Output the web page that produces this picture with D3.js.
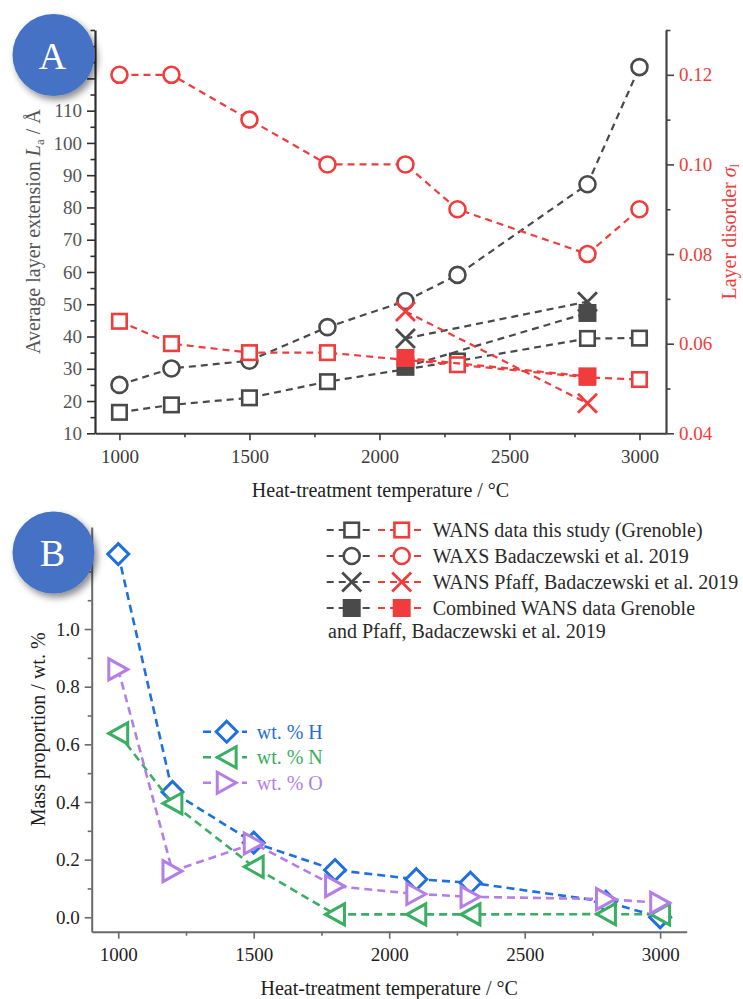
<!DOCTYPE html>
<html><head><meta charset="utf-8">
<script src="https://cdn.jsdelivr.net/npm/d3@7"></script>
<style>
body{margin:0;background:#fff}
svg{display:block}
text{font-family:"Liberation Serif","Times New Roman",serif}
</style>
</head><body>
<svg id="chart" width="743" height="999"></svg>
<script>
// ---------- Panel A: layer extension La (left axis) ----------
const laGrenobleT = [1000, 1200, 1500, 1800, 2300, 2800, 3000];
const laGrenoble  = [16.5, 18.8, 21.0, 26.0, 32.4, 39.4, 39.5];
const laWaxsT = [1000, 1200, 1500, 1800, 2100, 2300, 2800, 3000];
const laWaxs  = [25.0, 30.1, 32.5, 42.9, 51.0, 59.1, 87.2, 123.5];
const laPfaffT = [2100, 2800];
const laPfaff  = [39.4, 50.8];
const laCombT = [2100, 2800];
const laComb  = [30.6, 47.3];

// ---------- Panel A: layer disorder sigma_l (right axis) ----------
const sigGrenobleT = [1000, 1200, 1500, 1800, 2300, 2800, 3000];
const sigGrenoble  = [0.065, 0.060, 0.058, 0.058, 0.0553, 0.0525, 0.052];
const sigWaxsT = [1000, 1200, 1500, 1800, 2100, 2300, 2800, 3000];
const sigWaxs  = [0.12, 0.12, 0.11, 0.10, 0.10, 0.09, 0.08, 0.09];
const sigPfaffT = [2100, 2800];
const sigPfaff  = [0.0672, 0.0467];
const sigCombT = [2100, 2800];
const sigComb  = [0.0568, 0.0527];

// ---------- Panel B: elemental mass proportion ----------
const tempsB = [1000, 1200, 1500, 1800, 2100, 2300, 2800, 3000];
const wtH = [1.26, 0.435, 0.259, 0.164, 0.132, 0.12, 0.054, 0.0];
const wtN = [0.638, 0.395, 0.175, 0.01, 0.01, 0.01, 0.011, 0.01];
const wtO = [0.86, 0.16, 0.256, 0.108, 0.081, 0.071, 0.063, 0.05];

// ---------- ticks (labels under the panel badges are left blank) ----------
const xTicks = [1000, 1500, 2000, 2500, 3000];
const xMinor = [1250, 1750, 2250, 2750];
const laTicks = [10, 20, 30, 40, 50, 60, 70, 80, 90, 100, 110, 120, 130];
const laLabelled = [10, 20, 30, 40, 50, 60, 70, 80, 90, 100, 110];
const laMinor = [15, 25, 35, 45, 55, 65, 75, 85, 95, 105, 115, 125, 135];
const sigTicks = [0.04, 0.06, 0.08, 0.10, 0.12];
const sigMinor = [0.05, 0.07, 0.09, 0.11, 0.13];
const wtTicks = [0.0, 0.2, 0.4, 0.6, 0.8, 1.0, 1.2];
const wtLabelled = [0.0, 0.2, 0.4, 0.6, 0.8, 1.0];
const wtMinor = [0.1, 0.3, 0.5, 0.7, 0.9, 1.1, 1.3];

const legendA = [
  "WANS data this study (Grenoble)",
  "WAXS Badaczewski et al. 2019",
  "WANS Pfaff, Badaczewski et al. 2019",
  "Combined WANS data Grenoble"
];
const legendA2 = "and Pfaff, Badaczewski et al. 2019";
const legendB = ["wt. % H", "wt. % N", "wt. % O"];

const DARK = "#4a4a4a", RED = "#f03c3c";
const BLUE = "#1f6fde", GREEN = "#3aae62", PURPLE = "#b37fe6";

const svg = d3.select("#chart");

// drop shadow for the panel badges
const defs = svg.append("defs");
const f = defs.append("filter").attr("id", "shadow")
  .attr("x", "-30%").attr("y", "-30%").attr("width", "170%").attr("height", "170%");
f.append("feDropShadow").attr("dx", 3).attr("dy", 4).attr("stdDeviation", 3.5)
  .attr("flood-color", "#000").attr("flood-opacity", 0.45);

// ---------- marker shapes ----------
function marker(g, shape, x, y, color, sw, size) {
  const s = size / 2;
  if (shape === "square") {
    g.append("rect").attr("x", x - s).attr("y", y - s).attr("width", size).attr("height", size)
      .attr("fill", "#fff").attr("stroke", color).attr("stroke-width", sw);
  } else if (shape === "fsquare") {
    g.append("rect").attr("x", x - s).attr("y", y - s).attr("width", size).attr("height", size)
      .attr("fill", color).attr("stroke", color).attr("stroke-width", sw);
  } else if (shape === "circle") {
    g.append("circle").attr("cx", x).attr("cy", y).attr("r", s)
      .attr("fill", "#fff").attr("stroke", color).attr("stroke-width", sw);
  } else if (shape === "x") {
    g.append("path").attr("d", `M${x - s},${y - s}L${x + s},${y + s}M${x - s},${y + s}L${x + s},${y - s}`)
      .attr("fill", "none").attr("stroke", color).attr("stroke-width", sw);
  } else if (shape === "diamond") {
    g.append("path").attr("d", `M${x},${y - s}L${x + s},${y}L${x},${y + s}L${x - s},${y}Z`)
      .attr("fill", "#fff").attr("stroke", color).attr("stroke-width", sw);
  } else if (shape === "tleft") {
    const w = size * 0.9;
    g.append("path").attr("d", `M${x - w / 2},${y}L${x + w / 2},${y - s}L${x + w / 2},${y + s}Z`)
      .attr("fill", "#fff").attr("stroke", color).attr("stroke-width", sw).attr("stroke-linejoin", "miter");
  } else if (shape === "tright") {
    const w = size * 0.9;
    g.append("path").attr("d", `M${x + w / 2},${y}L${x - w / 2},${y - s}L${x - w / 2},${y + s}Z`)
      .attr("fill", "#fff").attr("stroke", color).attr("stroke-width", sw).attr("stroke-linejoin", "miter");
  }
}

function series(g, xs, ys, sx, sy, shape, color, o) {
  const pts = xs.map((t, i) => [sx(t), sy(ys[i])]);
  g.append("path").attr("d", d3.line()(pts)).attr("fill", "none")
    .attr("stroke", color).attr("stroke-width", o.lw).attr("stroke-dasharray", o.dash);
  pts.forEach(p => marker(g, shape, p[0], p[1], color, o.sw, o.size));
}

function styleAxis(g, lineColor, textColor, fs, domainW) {
  g.select(".domain").attr("stroke", lineColor).attr("stroke-width", domainW);
  g.selectAll(".tick line").attr("stroke", lineColor).attr("stroke-width", 1.6);
  g.selectAll("text").attr("fill", textColor).attr("font-size", fs)
    .attr("font-family", '"Liberation Serif","Times New Roman",serif');
  g.selectAll(".tick text").filter(function () { return this.textContent === ""; }).remove();
}

// =================== PANEL A ===================
const A = { left: 95, right: 666, top: 30, bottom: 433.3 };
const xA = d3.scaleLinear().domain([906, 3102]).range([A.left, A.right]);
const yL = d3.scaleLinear().domain([10, 135]).range([A.bottom, A.top]);
const yR = d3.scaleLinear().domain([0.04, 0.13]).range([A.bottom, A.top]);

const gA = svg.append("g");

// x axis
const axA = gA.append("g").attr("transform", `translate(0,${A.bottom})`)
  .call(d3.axisBottom(xA).tickValues(xTicks).tickSize(7).tickSizeOuter(0).tickPadding(9).tickFormat(d3.format("d")));
styleAxis(axA, "#3c3c3c", "#3a3a3a", 19, 2);
gA.append("g").attr("transform", `translate(0,${A.bottom})`)
  .call(d3.axisBottom(xA).tickValues(xMinor).tickSize(4).tickFormat(""))
  .call(g => { g.select(".domain").remove(); g.selectAll("text").remove(); g.selectAll("line").attr("stroke", "#3c3c3c").attr("stroke-width", 1.6); });

// left axis
const ayL = gA.append("g").attr("transform", `translate(${A.left},0)`)
  .call(d3.axisLeft(yL).tickValues(laTicks).tickSize(8).tickSizeOuter(0).tickPadding(5)
    .tickFormat(d => laLabelled.includes(d) ? d3.format("d")(d) : ""));
styleAxis(ayL, "#2e2e2e", "#555", 19, 2.2);
gA.append("g").attr("transform", `translate(${A.left},0)`)
  .call(d3.axisLeft(yL).tickValues(laMinor).tickSize(4.5).tickFormat(""))
  .call(g => { g.select(".domain").remove(); g.selectAll("text").remove(); g.selectAll("line").attr("stroke", "#2e2e2e").attr("stroke-width", 1.6); });

// right axis
const ayR = gA.append("g").attr("transform", `translate(${A.right},0)`)
  .call(d3.axisRight(yR).tickValues(sigTicks).tickSize(8).tickSizeOuter(0).tickPadding(5).tickFormat(d3.format(".2f")));
styleAxis(ayR, "#444", RED, 19, 2.2);
gA.append("g").attr("transform", `translate(${A.right},0)`)
  .call(d3.axisRight(yR).tickValues(sigMinor).tickSize(4.5).tickFormat(""))
  .call(g => { g.select(".domain").remove(); g.selectAll("text").remove(); g.selectAll("line").attr("stroke", "#444").attr("stroke-width", 1.6); });

// axis titles
gA.append("text").attr("x", (A.left + A.right) / 2).attr("y", 497).attr("text-anchor", "middle")
  .attr("font-size", 20).attr("fill", "#222").text("Heat-treatment temperature / °C");

const tL = gA.append("text").attr("transform", `translate(40,${(A.top + A.bottom) / 2}) rotate(-90)`)
  .attr("text-anchor", "middle").attr("font-size", 20).attr("fill", "#555");
tL.append("tspan").text("Average layer extension ");
tL.append("tspan").attr("font-style", "italic").text("L");
tL.append("tspan").attr("font-size", 13).attr("dy", 4).text("a");
tL.append("tspan").attr("dy", -4).text(" / Å");

const tR = gA.append("text").attr("transform", `translate(736,${(A.top + A.bottom) / 2}) rotate(-90)`)
  .attr("text-anchor", "middle").attr("font-size", 20).attr("fill", RED);
tR.append("tspan").text("Layer disorder ");
tR.append("tspan").attr("font-style", "italic").text("σ");
tR.append("tspan").attr("font-size", 13).attr("dy", 2.5).text("l");

// data, dark (left axis) first, red (right axis) on top
const oA = { lw: 2.2, dash: "7,5", sw: 2.6, size: 14.5 };
const oAc = { lw: 2.2, dash: "7,5", sw: 2.6, size: 16 };
const oAx = { lw: 2.2, dash: "7,5", sw: 2.8, size: 19 };
const oAf = { lw: 2.2, dash: "7,5", sw: 2, size: 16 };
const dA = gA.append("g");
series(dA, laGrenobleT, laGrenoble, xA, yL, "square", DARK, oA);
series(dA, laWaxsT, laWaxs, xA, yL, "circle", DARK, oAc);
series(dA, laCombT, laComb, xA, yL, "fsquare", DARK, oAf);
series(dA, laPfaffT, laPfaff, xA, yL, "x", DARK, oAx);
series(dA, sigGrenobleT, sigGrenoble, xA, yR, "square", RED, oA);
series(dA, sigWaxsT, sigWaxs, xA, yR, "circle", RED, oAc);
series(dA, sigCombT, sigComb, xA, yR, "fsquare", RED, oAf);
series(dA, sigPfaffT, sigPfaff, xA, yR, "x", RED, oAx);

// legend for panel A
const legRows = [530, 556, 582, 608];
const legShapes = [["square", oA], ["circle", oAc], ["x", oAx], ["fsquare", oAf]];
const lg = svg.append("g");
legendA.forEach((label, i) => {
  const y = legRows[i];
  [[DARK, 326.7, 351.7, 372], [RED, 378, 401.7, 424]].forEach(([c, x0, xm, x1]) => {
    lg.append("line").attr("x1", x0).attr("x2", x1).attr("y1", y).attr("y2", y)
      .attr("stroke", c).attr("stroke-width", 2.2).attr("stroke-dasharray", "7,5");
    marker(lg, legShapes[i][0], xm, y, c, legShapes[i][1].sw, legShapes[i][1].size);
  });
  lg.append("text").attr("x", 432.7).attr("y", y + 6.5).attr("font-size", 20).attr("fill", "#2a2a2a").text(label);
});
lg.append("text").attr("x", 328).attr("y", 638).attr("font-size", 20).attr("fill", "#2a2a2a").text(legendA2);

// =================== PANEL B ===================
const B = { left: 91.7, right: 686.7, top: 527, bottom: 931.7 };
const xB = d3.scaleLinear().domain([902, 3098]).range([B.left, B.right]);
const yB = d3.scaleLinear().domain([-0.05, 1.354]).range([B.bottom, B.top]);
const gB = svg.append("g");

const axB = gB.append("g").attr("transform", `translate(0,${B.bottom})`)
  .call(d3.axisBottom(xB).tickValues(xTicks).tickSize(7).tickSizeOuter(0).tickPadding(8.8).tickFormat(d3.format("d")));
styleAxis(axB, "#6a6a6a", "#1e1e1e", 19, 2);
gB.append("g").attr("transform", `translate(0,${B.bottom})`)
  .call(d3.axisBottom(xB).tickValues(xMinor).tickSize(4).tickFormat(""))
  .call(g => { g.select(".domain").remove(); g.selectAll("text").remove(); g.selectAll("line").attr("stroke", "#6a6a6a").attr("stroke-width", 1.6); });

const ayB = gB.append("g").attr("transform", `translate(${B.left},0)`)
  .call(d3.axisLeft(yB).tickValues(wtTicks).tickSize(7).tickSizeOuter(0).tickPadding(5)
    .tickFormat(d => wtLabelled.includes(d) ? d3.format(".1f")(d) : ""));
styleAxis(ayB, "#6a6a6a", "#1e1e1e", 19, 2);
gB.append("g").attr("transform", `translate(${B.left},0)`)
  .call(d3.axisLeft(yB).tickValues(wtMinor).tickSize(4).tickFormat(""))
  .call(g => { g.select(".domain").remove(); g.selectAll("text").remove(); g.selectAll("line").attr("stroke", "#6a6a6a").attr("stroke-width", 1.6); });

gB.append("text").attr("x", (B.left + B.right) / 2).attr("y", 995).attr("text-anchor", "middle")
  .attr("font-size", 20).attr("fill", "#1e1e1e").text("Heat-treatment temperature / °C");
gB.append("text").attr("transform", `translate(45,${(B.top + B.bottom) / 2}) rotate(-90)`)
  .attr("text-anchor", "middle").attr("font-size", 20).attr("fill", "#1e1e1e").text("Mass proportion / wt. %");

const oB = { lw: 2.6, dash: "8,5", sw: 3, size: 21 };
const dB = gB.append("g");
series(dB, tempsB, wtH, xB, yB, "diamond", BLUE, oB);
series(dB, tempsB, wtN, xB, yB, "tleft", GREEN, oB);
series(dB, tempsB, wtO, xB, yB, "tright", PURPLE, oB);

// legend for panel B
const legBRows = [731.7, 757.3, 782.7];
const legBShapes = ["diamond", "tleft", "tright"];
const legBColors = [BLUE, GREEN, PURPLE];
legendB.forEach((label, i) => {
  const y = legBRows[i];
  gB.append("line").attr("x1", 203).attr("x2", 247).attr("y1", y).attr("y2", y)
    .attr("stroke", legBColors[i]).attr("stroke-width", 2.6).attr("stroke-dasharray", "8,5");
  marker(gB, legBShapes[i], 226.7, y, legBColors[i], 3, 21);
  gB.append("text").attr("x", 256.7).attr("y", y + 7).attr("font-size", 20).attr("fill", legBColors[i]).text(label);
});

// =================== panel badges ===================
[["A", 53.5, 55], ["B", 53.5, 552.5]].forEach(([t, cx, cy]) => {
  svg.append("circle").attr("cx", cx).attr("cy", cy).attr("r", 41)
    .attr("fill", "#4472c4").attr("filter", "url(#shadow)");
  svg.append("text").attr("x", cx - 1).attr("y", cy + 13.5).attr("text-anchor", "middle")
    .attr("font-size", 38).attr("fill", "#fff").text(t);
});
</script>
</body></html>
